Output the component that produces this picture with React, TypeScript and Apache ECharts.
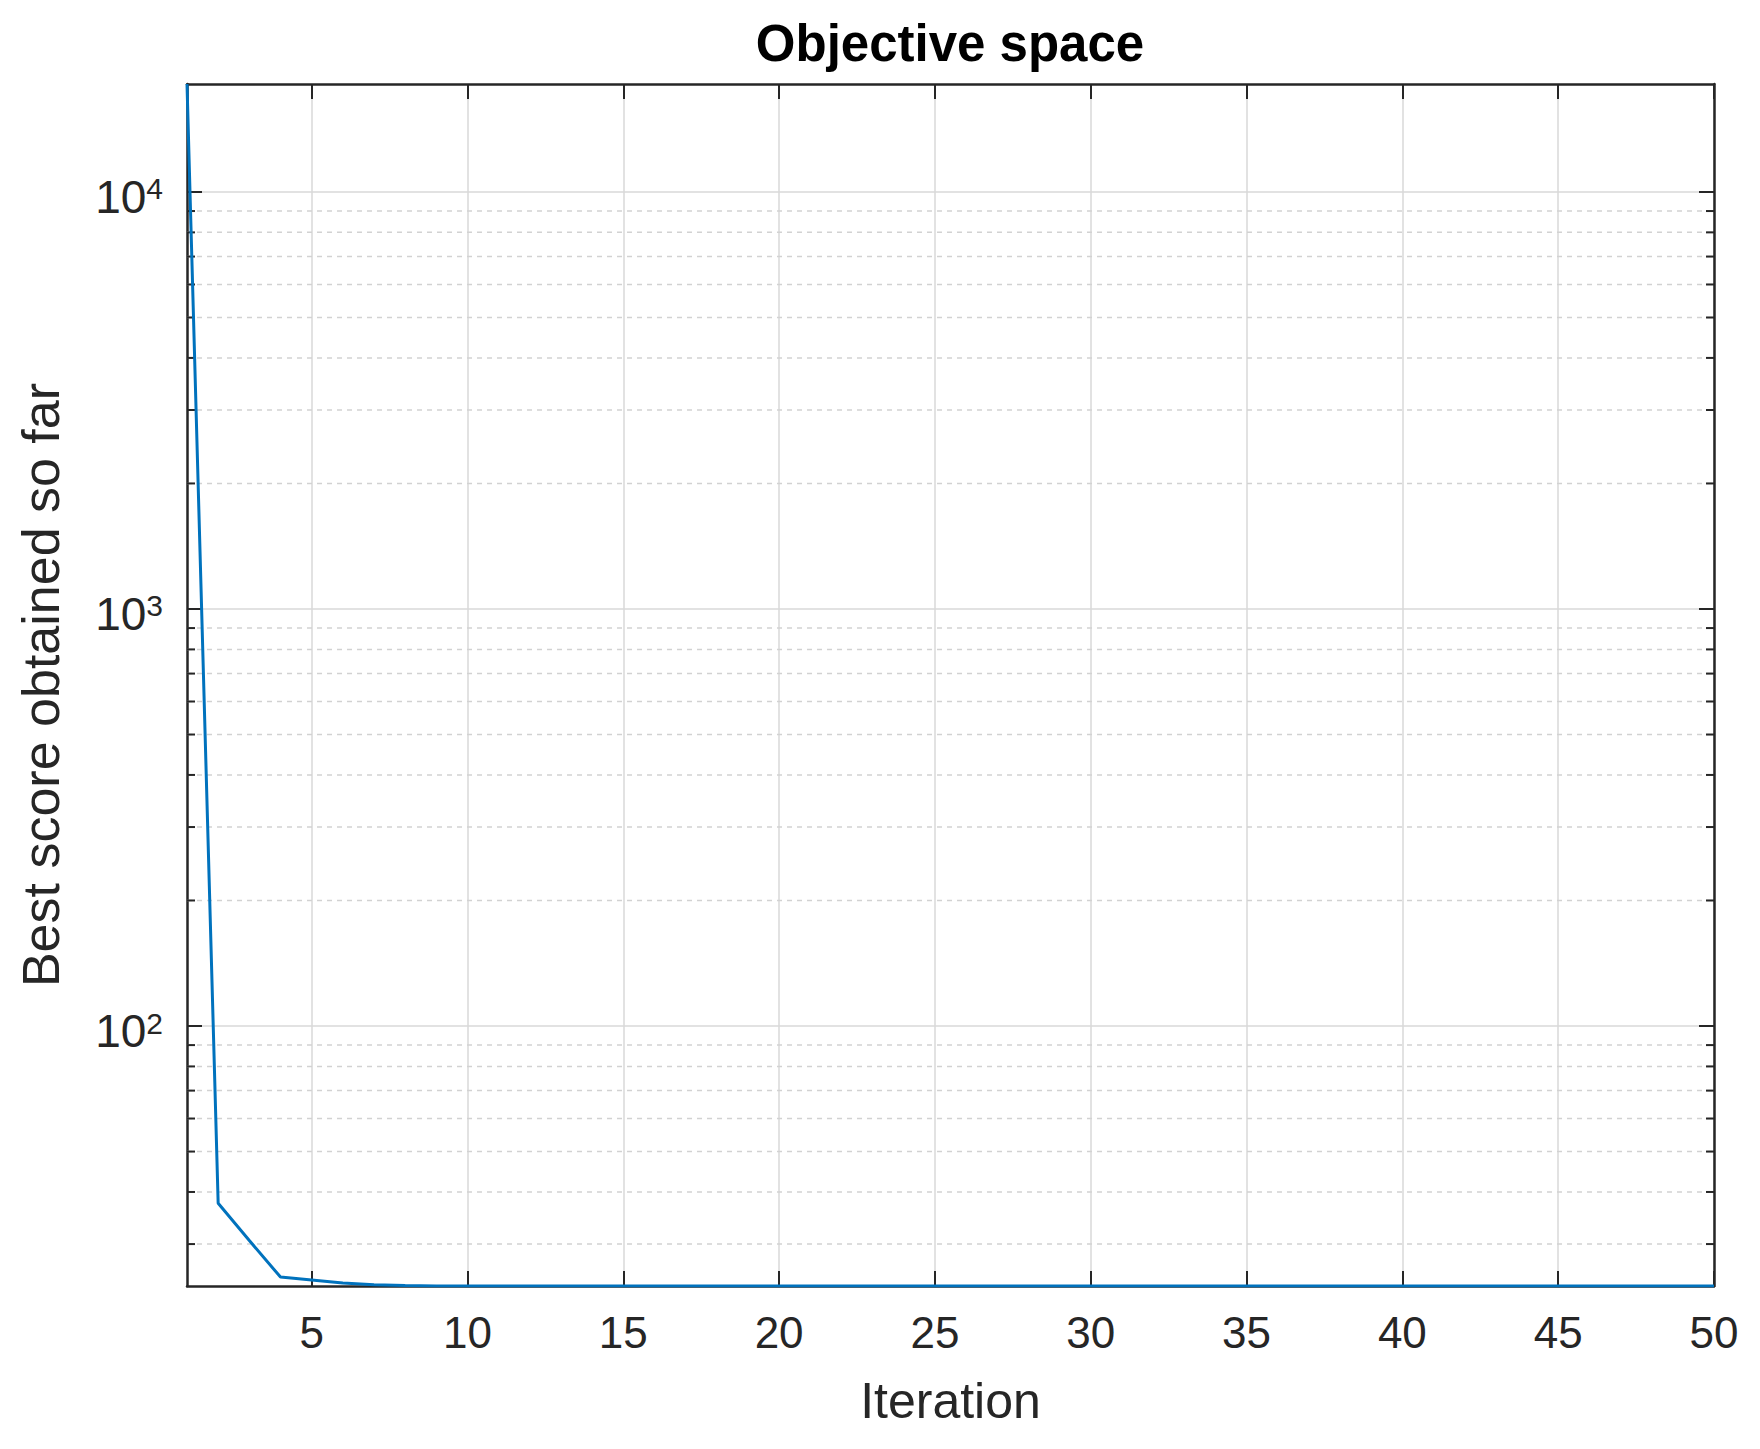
import React, { useEffect, useRef } from "react";
import * as echarts from "echarts";

// ---- data ----
const iterations = [
  1, 2, 3, 4, 5, 6, 7, 8, 9, 10, 11, 12, 13, 14, 15, 16, 17, 18, 19, 20, 21, 22, 23, 24, 25,
  26, 27, 28, 29, 30, 31, 32, 33, 34, 35, 36, 37, 38, 39, 40, 41, 42, 43, 44, 45, 46, 47, 48, 49, 50,
];
const bestScores = [
  18150, 37.6, 30.6, 25.0, 24.6, 24.2, 23.95, 23.85, 23.8, 23.8, 23.8, 23.8, 23.8, 23.8, 23.8, 23.8, 23.8,
  23.8, 23.8, 23.8, 23.8, 23.8, 23.8, 23.8, 23.8, 23.8, 23.8, 23.8, 23.8, 23.8, 23.8, 23.8, 23.8, 23.8,
  23.8, 23.8, 23.8, 23.8, 23.8, 23.8, 23.8, 23.8, 23.8, 23.8, 23.8, 23.8, 23.8, 23.8, 23.8, 23.8,
];
const xRange = [1, 50];
const yRange = [23.8, 18150];
const xTickValues = [5, 10, 15, 20, 25, 30, 35, 40, 45, 50];
const yTickValues = [100, 1000, 10000];
const yTickExponents = ["2", "3", "4"];
const yMinorValues = [
  30, 40, 50, 60, 70, 80, 90, 200, 300, 400, 500, 600, 700, 800, 900, 2000, 3000, 4000, 5000, 6000,
  7000, 8000, 9000,
];
const titleText = "Objective space";
const xName = "Iteration";
const yName = "Best score obtained so far";

const FONT = "'Liberation Sans', Arial, Helvetica, sans-serif";
const AXIS_COLOR = "#262626";
const GRID_COLOR = "#d9d9d9";
const LINE_COLOR = "#0072BD";

export default function App() {
  const ref = useRef<HTMLDivElement>(null);

  useEffect(() => {
    if (!ref.current) return;
    const chart = echarts.init(ref.current, null, { renderer: "svg" });

    const axisLine = { show: true, onZero: false, lineStyle: { color: AXIS_COLOR, width: 2.5 } };
    const tickStyle = { color: AXIS_COLOR, width: 2 };

    const option: any = {
      animation: false,
      backgroundColor: "#ffffff",
      graphic: [
        {
          type: "text",
          x: 950,
          y: 18,
          style: {
            text: titleText,
            fontFamily: FONT,
            fontSize: 51,
            fontWeight: "bold",
            fill: "#000000",
            textAlign: "center",
            textVerticalAlign: "top",
          },
        },
      ],
      grid: { left: 187, right: 46, top: 84, bottom: 163, containLabel: false },
      xAxis: [
        {
          type: "value",
          min: xRange[0],
          max: xRange[1],
          position: "bottom",
          axisLine,
          axisTick: { show: true, inside: true, length: 15, customValues: xTickValues, lineStyle: tickStyle },
          axisLabel: {
            customValues: xTickValues,
            fontSize: 44,
            fontFamily: FONT,
            color: AXIS_COLOR,
            margin: 24,
          },
          splitLine: { show: true, lineStyle: { color: GRID_COLOR, width: 1.5 } },
          name: xName,
          nameLocation: "middle",
          nameGap: 90,
          nameTextStyle: { fontSize: 50, fontFamily: FONT, color: AXIS_COLOR },
        },
        {
          type: "value",
          min: xRange[0],
          max: xRange[1],
          position: "top",
          axisLine,
          axisTick: { show: true, inside: true, length: 15, customValues: xTickValues, lineStyle: tickStyle },
          axisLabel: { show: false, customValues: xTickValues },
          splitLine: { show: false },
        },
      ],
      yAxis: [
        {
          type: "log",
          logBase: 10,
          min: yRange[0],
          max: yRange[1],
          position: "left",
          axisLine,
          axisTick: { show: true, inside: true, length: 15, customValues: yTickValues, lineStyle: tickStyle },
          axisLabel: {
            customValues: yTickValues,
            margin: 24,
            padding: [10, 0, 0, 0],
            formatter: (v: number) => {
              const idx = yTickValues.findIndex((t) => Math.abs(Math.log10(t) - Math.log10(v)) < 1e-6);
              return `{b|10}{s|${idx >= 0 ? yTickExponents[idx] : ""}}`;
            },
            rich: {
              b: { fontSize: 46, fontFamily: FONT, color: AXIS_COLOR },
              s: { fontSize: 30, fontFamily: FONT, color: AXIS_COLOR, verticalAlign: "top" },
            },
          },
          splitLine: { show: true, lineStyle: { color: GRID_COLOR, width: 1.5 } },
          minorTick: { show: false },
          name: yName,
          nameLocation: "middle",
          nameGap: 120,
          nameRotate: 90,
          nameTextStyle: { fontSize: 52, fontFamily: FONT, color: AXIS_COLOR },
        },
        {
          type: "log",
          logBase: 10,
          min: yRange[0],
          max: yRange[1],
          position: "right",
          axisLine,
          axisTick: { show: true, inside: true, length: 15, customValues: yTickValues, lineStyle: tickStyle },
          axisLabel: { show: false, customValues: yTickValues },
          splitLine: { show: false },
        },
      ],
      series: [
        {
          type: "custom",
          coordinateSystem: "cartesian2d",
          xAxisIndex: 0,
          yAxisIndex: 0,
          silent: true,
          z: 1,
          clip: false,
          data: yMinorValues.map((v) => [xRange[0], v]),
          renderItem: (params: any, api: any) => {
            const cs = params.coordSys;
            const y = api.coord([xRange[0], api.value(1)])[1];
            return {
              type: "group",
              children: [
                {
                  type: "line",
                  shape: { x1: cs.x, y1: y, x2: cs.x + cs.width, y2: y },
                  style: { stroke: "#d2d2d2", lineWidth: 1.5, lineDash: [5, 5] },
                },
                {
                  type: "line",
                  shape: { x1: cs.x, y1: y, x2: cs.x + 8, y2: y },
                  style: { stroke: AXIS_COLOR, lineWidth: 2 },
                },
                {
                  type: "line",
                  shape: { x1: cs.x + cs.width - 8, y1: y, x2: cs.x + cs.width, y2: y },
                  style: { stroke: AXIS_COLOR, lineWidth: 2 },
                },
              ],
            };
          },
        },
        {
          type: "line",
          xAxisIndex: 0,
          yAxisIndex: 0,
          z: 3,
          showSymbol: false,
          symbol: "none",
          lineStyle: { color: LINE_COLOR, width: 3 },
          data: iterations.map((x, i) => [x, bestScores[i]]),
        },
      ],
    };

    chart.setOption(option);
    return () => chart.dispose();
  }, []);

  return (
    <div
      ref={ref}
      style={{ position: "absolute", left: 0, top: 0, width: 1760, height: 1449, background: "#fff" }}
    />
  );
}
